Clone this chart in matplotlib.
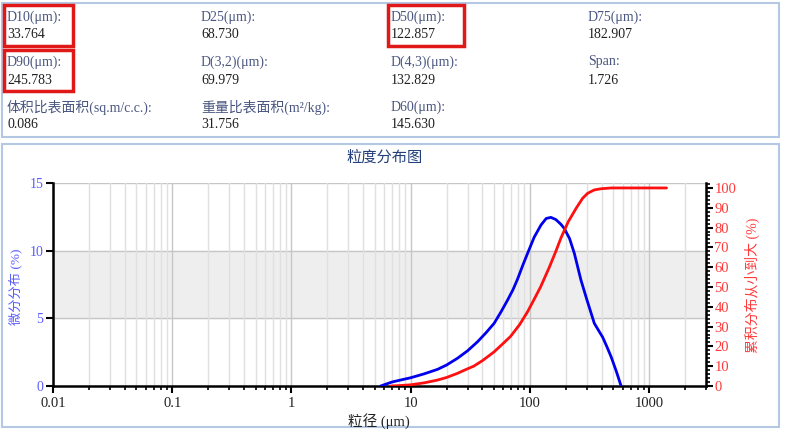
import numpy as np
import matplotlib
matplotlib.use("Agg")
import matplotlib.pyplot as plt
from matplotlib.patches import Rectangle
from matplotlib.ticker import FixedLocator, MultipleLocator, NullFormatter, LogLocator

plt.rcParams['font.family'] = ['Liberation Serif', 'Noto Sans CJK SC', 'DejaVu Sans']

# ---- summary values (top panel) ----
stat_labels = [
    ["D10(μm):", "D25(μm):", "D50(μm):", "D75(μm):"],
    ["D90(μm):", "D(3,2)(μm):", "D(4,3)(μm):", "Span:"],
    ["体积比表面积(sq.m/c.c.):", "重量比表面积(m²/kg):", "D60(μm):", ""],
]
stat_values = [
    ["33.764", "68.730", "122.857", "182.907"],
    ["245.783", "69.979", "132.829", "1.726"],
    ["0.086", "31.756", "145.630", ""],
]
# boxed cells -> box width in px
highlighted = {"D10(μm):": 69, "D50(μm):": 76, "D90(μm):": 69}

# ---- differential distribution (%) ----
diff_size = [5.6, 7, 10, 13, 16.8, 20, 24.7, 30, 36.4, 43, 50.1, 57, 65, 72, 78.8,
             87, 95.6, 108.7, 124, 137, 150, 165, 182, 194, 215, 236, 268, 300,
             347, 380, 408, 440, 480, 530, 582]
diff_pct = [0.0, 0.3, 0.61, 0.9, 1.23, 1.55, 2.05, 2.6, 3.27, 3.95, 4.63, 5.45, 6.35, 7.1, 7.9,
            8.9, 9.8, 11.0, 11.9, 12.38, 12.46, 12.3, 11.95, 11.65, 10.9, 9.8, 7.83, 6.4,
            4.63, 4.05, 3.6, 2.95, 2.16, 1.1, 0.0]

# ---- cumulative distribution (%) ----
cum_size = [6.8, 8, 10, 13, 16.8, 20, 24.7, 29, 33.764, 40, 50, 58, 68.73, 82, 95.6,
            108, 122.857, 145.63, 165, 182.907, 210, 245.783, 277, 305, 347, 395, 480, 1400]
cum_pct = [0.0, 0.2, 0.6, 1.6, 3.0, 4.3, 6.4, 8.3, 10, 12.8, 17.2, 20.8, 25, 31, 37.5,
           43.5, 50, 60, 68, 75, 83, 90, 94.8, 97.3, 99.0, 99.6, 100, 100]

W, H = 800, 433
fig = plt.figure(figsize=(8, 4.33), dpi=100)


def fx(x):
    return x / W


def fy(y):
    return 1 - y / H


border = '#b4c8e4'
fig.patches.append(Rectangle((fx(1.5), fy(137)), fx(777), 134 / H, transform=fig.transFigure,
                             fill=False, ec=border, lw=1.5))
fig.patches.append(Rectangle((fx(1.5), fy(427)), fx(777), 283 / H, transform=fig.transFigure,
                             fill=False, ec=border, lw=1.5))

col_x = [7, 201, 391, 588]
row_y = [17, 62, 107]
for r, (labs, vals) in enumerate(zip(stat_labels, stat_values)):
    for c, (lab, val) in enumerate(zip(labs, vals)):
        if not lab:
            continue
        fig.text(fx(col_x[c]), fy(row_y[r]), lab, fontsize=10, color='#4a5680', va='center')
        fig.text(fx(col_x[c]), fy(row_y[r] + 18), val, fontsize=10, color='#202020', va='center')
        if lab in highlighted:
            fig.patches.append(Rectangle((fx(col_x[c] - 3), fy(row_y[r] + 29)),
                                         highlighted[lab] / W, 41 / H,
                                         transform=fig.transFigure, fill=False,
                                         ec='#e01818', lw=2.5))

# ---- main chart ----
ax = fig.add_axes([fx(53), fy(386), (706 - 53) / W, (386 - 183) / H])
ax2 = ax.twinx()

ax.set_xscale('log')
ax.set_xlim(0.01, 3000)
ax.set_ylim(0, 15)
ax2.set_ylim(0, 102.5)

ax.axhspan(5, 10, color='#eeeeee', zorder=0)
ax.xaxis.set_minor_locator(LogLocator(base=10, subs=np.arange(2, 10)))
ax.xaxis.set_minor_formatter(NullFormatter())
ax.xaxis.set_major_locator(FixedLocator([0.01, 0.1, 1, 10, 100, 1000]))
ax.set_xticklabels(['0.01', '0.1', '1', '10', '100', '1000'])
ax.grid(True, which='major', axis='x', color='#c6c6c6', lw=1.0, zorder=1)
ax.grid(True, which='minor', axis='x', color='#e0e0e0', lw=1.0, zorder=1)
ax.set_yticks([0, 5, 10, 15])
for yv in [5, 10, 15]:
    ax.axhline(yv, color='#c6c6c6', lw=1.0, zorder=1)

ax.plot(diff_size, diff_pct, color='#0000ee', lw=2, zorder=3, solid_capstyle='round')
ax2.plot(cum_size, cum_pct, color='#ff1010', lw=2, zorder=3, solid_capstyle='round')

for a in (ax, ax2):
    a.spines['top'].set_visible(False)
    for s in ('left', 'bottom', 'right'):
        a.spines[s].set_linewidth(1.8)
        a.spines[s].set_color('black')
ax.spines['right'].set_visible(False)
ax2.spines['left'].set_visible(False)
ax2.spines['bottom'].set_visible(False)

ax.tick_params(axis='x', which='major', length=5, width=1.5, labelsize=10.5, colors='black',
               pad=3, labelcolor='#222222')
ax.tick_params(axis='x', which='minor', length=3, width=1.2, colors='black')
ax.tick_params(axis='y', which='major', length=5, width=1.5, labelsize=10,
               labelcolor='#5a5aff', pad=2)
ax2.yaxis.set_major_locator(MultipleLocator(10))
ax2.yaxis.set_minor_locator(MultipleLocator(2))
ax2.tick_params(axis='y', which='major', length=5, width=1.5, labelsize=10.5,
                labelcolor='#ff3a3a', pad=1)
ax2.tick_params(axis='y', which='minor', length=3, width=1.2)

fig.text(fx(385), fy(158), '粒度分布图', ha='center', va='center', fontsize=11,
         color='#23407a')
fig.text(fx(379), fy(421), '粒径 (μm)', ha='center', va='center', fontsize=10.5, color='#222222')
fig.text(fx(15), fy(287), '微分分布 (%)', rotation=90, ha='center', va='center',
         fontsize=9.5, color='#5a5aff')
fig.text(fx(752), fy(285), '累积分布从小到大 (%)', rotation=90, ha='center', va='center',
         fontsize=10, color='#ff3a3a')

fig.savefig('out.png', dpi=100)
